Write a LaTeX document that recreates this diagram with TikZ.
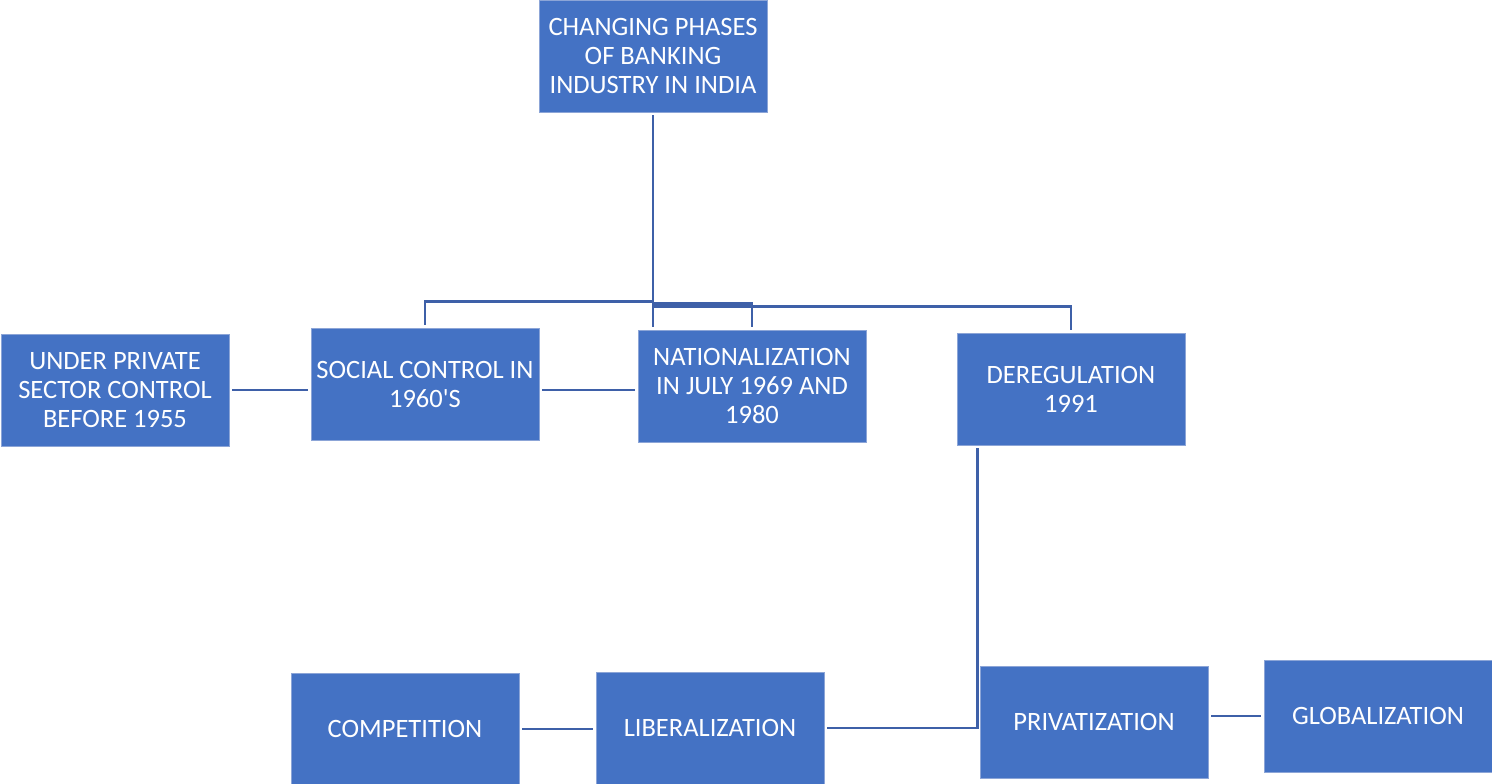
\documentclass[tikz,border=0pt]{standalone}
\usepackage{fontspec}
\setmainfont{Carlito}
\definecolor{boxblue}{RGB}{68,114,196}
\definecolor{lineblue}{RGB}{62,96,168}
\definecolor{rimblue}{RGB}{140,165,215}
\tikzset{
  phase/.style={fill=boxblue, draw=rimblue, line width=0.6pt, text=white, align=center,
    minimum width=228, minimum height=112, inner sep=2pt,
    font=\fontsize{26.5}{29}\selectfont},
  link/.style={draw=lineblue, line width=2.8pt, shorten >=3pt, shorten <=3pt}
}
\begin{document}
\begin{tikzpicture}[x=1pt,y=-1pt]
\useasboundingbox (0,0) rectangle (1492,784);

\node[phase] (top) at (653,56) {CHANGING PHASES\\OF BANKING\\INDUSTRY IN INDIA};
\node[phase] (private) at (115,390) {UNDER PRIVATE\\SECTOR CONTROL\\BEFORE 1955};
\node[phase] (social) at (425,384) {SOCIAL CONTROL IN\\1960\textquotesingle S};
\node[phase] (nat) at (752,386) {NATIONALIZATION\\IN JULY 1969 AND\\1980};
\node[phase] (dereg) at (1071,389) {DEREGULATION\\1991};
\node[phase] (comp) at (405,729) {COMPETITION};
\node[phase] (lib) at (710,728) {LIBERALIZATION};
\node[phase] (priv) at (1094,722) {PRIVATIZATION};
\node[phase] (glob) at (1378,716) {GLOBALIZATION};

\draw[link] (top.south) -- (top.south |- nat.north);
\draw[link] (social.north) -- ++(0,-26) -| (top.south);
\draw[link] (nat.north) -- ++(0,-26) -| (top.south);
\draw[link] (dereg.north) -- ++(0,-26) -| (top.south);
\draw[link] (private.east) -- (private.east -| social.west);
\draw[link] (private.east -| social.east) -- (private.east -| nat.west);
\draw[link] (lib.east) -| ([xshift=-2]priv.north west) -- ([xshift=-2]priv.north west |- dereg.south);
\draw[link] (comp.east) -- (comp.east -| lib.west);
\draw[link] (glob.west -| priv.east) -- (glob.west);
\end{tikzpicture}
\end{document}
